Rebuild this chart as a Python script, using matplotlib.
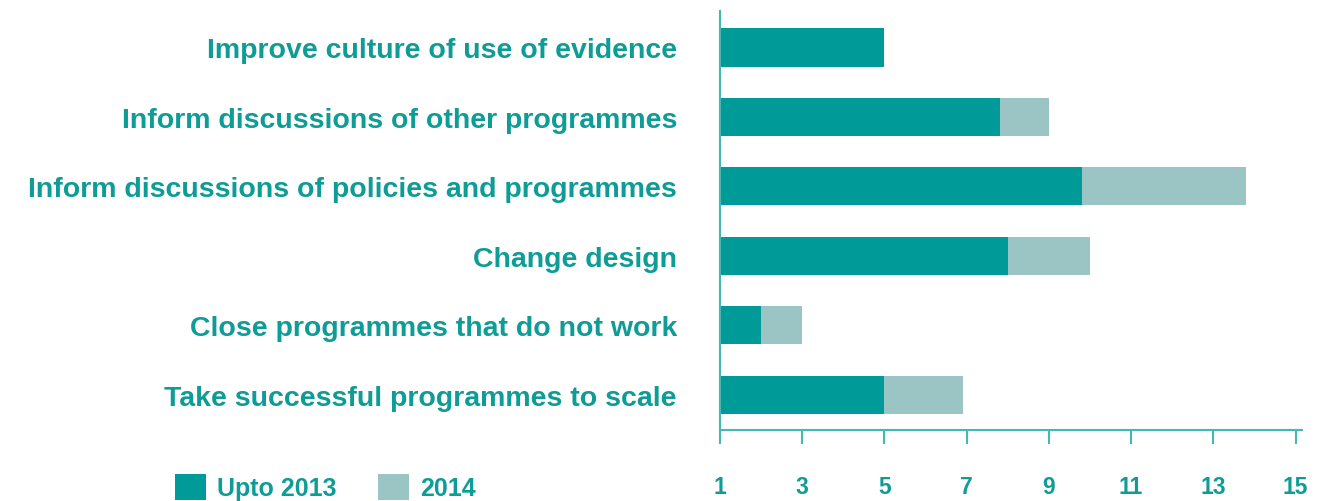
import matplotlib
matplotlib.use("Agg")
import matplotlib.pyplot as plt
import numpy as np
from matplotlib.patches import Patch

categories = [
    "Take successful programmes to scale",
    "Close programmes that do not work",
    "Change design",
    "Inform discussions of policies and programmes",
    "Inform discussions of other programmes",
    "Improve culture of use of evidence",
]
upto_2013 = [5, 2, 8, 9.8, 7.8, 5]
added_2014 = [1.9, 1, 2, 4.0, 1.2, 0]
baseline = 1
xticks = [1, 3, 5, 7, 9, 11, 13, 15]
legend_labels = ["Upto 2013", "2014"]

DARK = "#009A98"
LIGHT = "#9BC4C4"
TEXT = "#0E9C97"
SPINE = "#45B8B3"

plt.rcParams['font.family'] = ['Liberation Sans', 'DejaVu Sans']

fig = plt.figure(figsize=(13.27, 5.02), dpi=100)
ax = fig.add_axes([720/1327, 1-430.5/502, (1301.7-720)/1327, (430.5-12)/502])

y = np.arange(len(categories))
dark_w = np.array(upto_2013) - baseline
ax.barh(y, dark_w, left=baseline, height=0.55, color=DARK, linewidth=0)
ax.barh(y, added_2014, left=np.array(upto_2013), height=0.55, color=LIGHT, linewidth=0)

ax.set_xlim(1, 15.15)
ax.set_ylim(-0.5, 5.525)

ax.set_yticks(y)
ax.set_yticklabels(categories, fontsize=20.5, fontweight='bold', color=TEXT)
ax.tick_params(axis='y', length=0, pad=31)

ax.set_xticks(xticks)
ax.set_xticklabels([str(t) for t in xticks], fontsize=16.5, fontweight='bold', color=TEXT)
ax.tick_params(axis='x', length=10, width=1.5, color=SPINE, pad=23, direction='out')

for s in ['top', 'right']:
    ax.spines[s].set_visible(False)
for s in ['left', 'bottom']:
    ax.spines[s].set_color(SPINE)
    ax.spines[s].set_linewidth(1.5)

handles = [Patch(facecolor=DARK, edgecolor='none'), Patch(facecolor=LIGHT, edgecolor='none')]
leg = fig.legend(handles, legend_labels, loc='center left',
                 bbox_to_anchor=(175/1327, 1-488/502), ncol=2, frameon=False,
                 prop={'size': 18, 'weight': 'bold'},
                 handlelength=1.23, handleheight=1.23, handletextpad=0.45,
                 columnspacing=1.65, borderpad=0, borderaxespad=0)
for t in leg.get_texts():
    t.set_color(TEXT)

fig.savefig("out.png", dpi=100)
